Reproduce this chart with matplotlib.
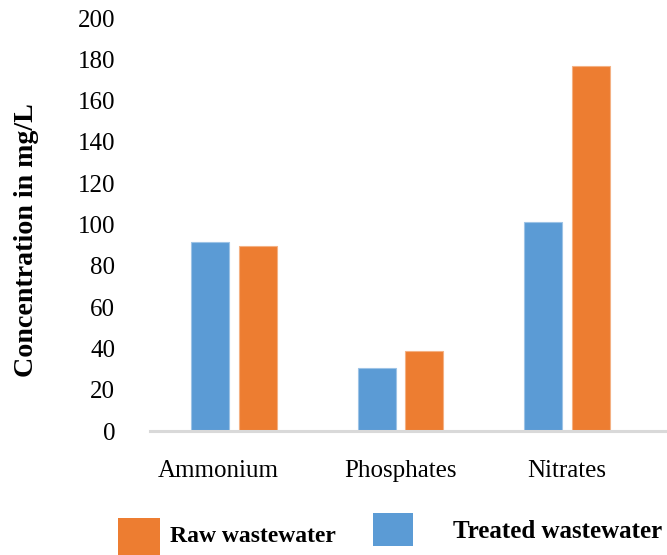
import matplotlib
matplotlib.use("Agg")
import matplotlib.pyplot as plt
from matplotlib.patches import Rectangle
from matplotlib.transforms import ScaledTranslation
import numpy as np

# Nutrient concentrations (mg/L)
categories = ["Ammonium", "Phosphates", "Nitrates"]
treated = [91.5, 30.5, 101.0]
raw = [89.8, 38.6, 176.8]
series_names = ["Raw wastewater", "Treated wastewater"]
yticks = [0, 20, 40, 60, 80, 100, 120, 140, 160, 180, 200]

BLUE = "#5B9BD5"
ORANGE = "#ED7D31"
FONT = "Liberation Serif"

fig = plt.figure(figsize=(6.67, 5.55), dpi=100)
ax = fig.add_axes([150 / 667, (555 - 431) / 555, 1 - 150 / 667, (431 - 18) / 555])

x = np.arange(len(categories))
w = 0.228
off = 0.143
ax.bar(x - off, treated, width=w, color=BLUE, edgecolor="#9DC3E6", linewidth=0.8, zorder=2)
ax.bar(x + off, raw, width=w, color=ORANGE, edgecolor="#F4B183", linewidth=0.8, zorder=2)

ax.set_xlim(-0.505, 2.6)
ax.set_ylim(0, 200)
ax.set_yticks(yticks)
ax.set_yticklabels([str(t) for t in yticks], family=FONT, fontsize=18)
ax.set_xticks(x)
ax.set_xticklabels(categories, family=FONT, fontsize=18)
ax.tick_params(axis="both", length=0)
ax.tick_params(axis="y", pad=25)
ax.tick_params(axis="x", pad=21)

# first category label sits slightly left of its bar pair
first = ax.get_xticklabels()[0]
first.set_transform(first.get_transform() + ScaledTranslation(-0.16, 0, fig.dpi_scale_trans))

for s in ["top", "right", "left"]:
    ax.spines[s].set_visible(False)
ax.spines["bottom"].set_color("#d9d9d9")
ax.spines["bottom"].set_linewidth(2.2)
ax.spines["bottom"].set_zorder(3)

fig.text(27 / 667, (555 - 240) / 555, "Concentration in mg/L", rotation=90,
         ha="center", va="center", family=FONT, fontsize=20.2, fontweight="bold")

# Legend
def px(xp, yp):
    return xp / 667, (555 - yp) / 555

x0, y0 = px(118, 555)
fig.add_artist(Rectangle((x0, y0), 42 / 667, 37 / 555, transform=fig.transFigure,
                         color=ORANGE, lw=0))
tx, ty = px(170, 536)
fig.text(tx, ty, series_names[0], ha="left", va="center", family=FONT,
         fontsize=17, fontweight="bold")

x1, y1 = px(373, 546)
fig.add_artist(Rectangle((x1, y1), 40 / 667, 33 / 555, transform=fig.transFigure,
                         color=BLUE, lw=0))
tx, ty = px(453, 531)
fig.text(tx, ty, series_names[1], ha="left", va="center", family=FONT,
         fontsize=18, fontweight="bold")

fig.savefig("out.png", dpi=100)
